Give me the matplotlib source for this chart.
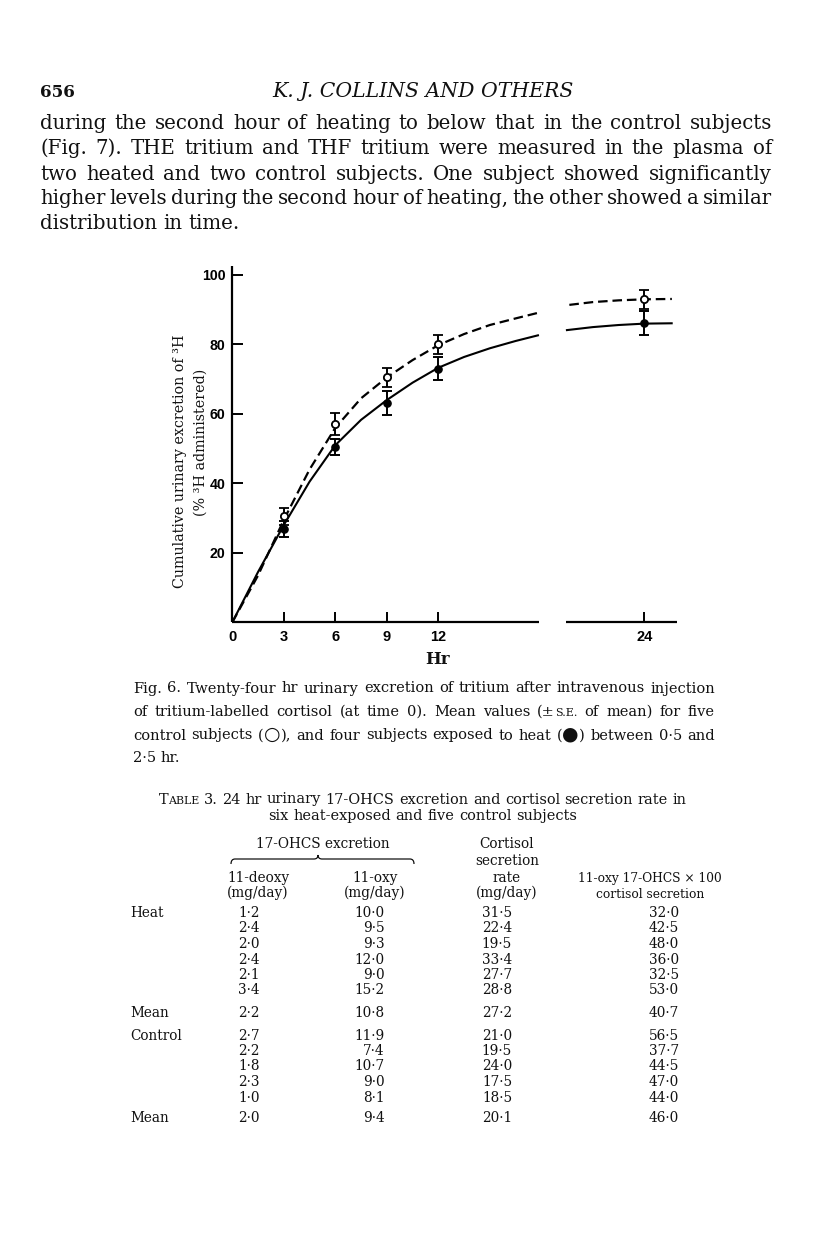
import matplotlib
matplotlib.use("Agg")
import matplotlib.pyplot as plt
from matplotlib.path import Path
from matplotlib.patches import PathPatch

W, H = 816, 1258
SERIF = ["DejaVu Serif", "DejaVu Sans"]
SANS = "Liberation Sans"

# ---------------- chart data ----------------
hours = [3, 6, 9, 12, 24]
control_mean = [30.5, 57.0, 70.5, 80.0, 93.0]
control_se = [2.4, 3.2, 2.7, 2.8, 2.8]
heat_mean = [27.0, 50.5, 63.2, 73.0, 86.1]
heat_se = [2.3, 2.4, 3.4, 3.3, 3.5]

# fitted curves (two pieces because of the axis break)
control_curve_hours_a = [0, 1.5, 3, 4.5, 6, 7.5, 9, 10.5, 12, 13.5, 15, 16.5, 17.96]
control_curve_vals_a = [0, 13.5, 29.5, 44.0, 56.0, 64.5, 70.5, 75.5, 79.8, 83.0, 85.6, 87.5, 89.3]
control_curve_hours_b = [19.63, 21, 22.5, 24, 25.6]
control_curve_vals_b = [91.4, 92.2, 92.7, 93.0, 93.1]
heat_curve_hours_a = [0, 1.5, 3, 4.5, 6, 7.5, 9, 10.5, 12, 13.5, 15, 16.5, 17.86]
heat_curve_vals_a = [0, 14.5, 28.0, 40.5, 51.0, 58.3, 64.0, 69.0, 73.3, 76.4, 78.9, 81.0, 82.7]
heat_curve_hours_b = [19.43, 21, 22.5, 24, 25.65]
heat_curve_vals_b = [84.1, 85.0, 85.6, 86.0, 86.1]

x_ticks = [0, 3, 6, 9, 12, 24]
y_ticks = [20, 40, 60, 80, 100]
x_axis_pieces = [(0, 17.86), (19.43, 25.88)]
y_axis_top = 102.5

ylabel_lines = ["Cumulative urinary excretion of \u00b3H", "(% \u00b3H administered)"]
xlabel = "Hr"

# ---------------- page text ----------------
page_number = "656"
running_head = "K. J. COLLINS AND OTHERS"
paragraph = [
    "during the second hour of heating to below that in the control subjects",
    "(Fig. 7). THE tritium and THF tritium were measured in the plasma of",
    "two heated and two control subjects. One subject showed significantly",
    "higher levels during the second hour of heating, the other showed a similar",
    "distribution in time.",
]
caption = [
    "Fig. 6. Twenty-four hr urinary excretion of tritium after intravenous injection",
    "of tritium-labelled cortisol (at time 0). Mean values (\u00b1{S.E.} of mean) for five",
    "control subjects (<\u25cb>), and four subjects exposed to heat (<\u25cf>) between 0\u00b75 and",
    "2\u00b75 hr.",
]
table_title = [
    "T{ABLE} 3. 24 hr urinary 17-OHCS excretion and cortisol secretion rate in",
    "six heat-exposed and five control subjects",
]

# ---------------- table data ----------------
heat_deoxy = [1.2, 2.4, 2.0, 2.4, 2.1, 3.4]
heat_oxy = [10.0, 9.5, 9.3, 12.0, 9.0, 15.2]
heat_cortisol = [31.5, 22.4, 19.5, 33.4, 27.7, 28.8]
heat_ratio = [32.0, 42.5, 48.0, 36.0, 32.5, 53.0]
heat_means = [2.2, 10.8, 27.2, 40.7]
control_deoxy = [2.7, 2.2, 1.8, 2.3, 1.0]
control_oxy = [11.9, 7.4, 10.7, 9.0, 8.1]
control_cortisol = [21.0, 19.5, 24.0, 17.5, 18.5]
control_ratio = [56.5, 37.7, 44.5, 47.0, 44.0]
control_means = [2.0, 9.4, 20.1, 46.0]

# ---------------- figure ----------------
fig = plt.figure(figsize=(W / 100, H / 100), dpi=100)
page = fig.add_axes([0, 0, 1, 1])
page.set_xlim(0, W)
page.set_ylim(H, 0)
page.axis("off")
renderer = fig.canvas.get_renderer()
INK = "#111111"


def tw(s, size, **kw):
    t = page.text(0, 0, s, fontsize=size, **kw)
    w = t.get_window_extent(renderer).width
    t.remove()
    return w


def parse_word(word):
    """split a word into (text, scale) segments; {..} small capitals, <..> enlarged symbol"""
    segs = []
    buf = ""
    cur = 1.0
    for ch in word:
        if ch in "{<":
            if buf:
                segs.append((buf, 1.0))
            buf = ""
            cur = 0.76 if ch == "{" else 1.3
        elif ch in "}>":
            if buf:
                segs.append((buf, cur))
            buf = ""
            cur = 1.0
        else:
            buf += ch
    if buf:
        segs.append((buf, cur))
    return segs


def word_width(word, size, **kw):
    return sum(tw(t, size * sc, **kw) for t, sc in parse_word(word))


def draw_word(x, y, word, size, **kw):
    for t, sc in parse_word(word):
        page.text(x, y, t, fontsize=size * sc, va="baseline", ha="left", **kw)
        x += tw(t, size * sc, **kw)


def space_w(size, **kw):
    return tw("x x", size, **kw) - tw("xx", size, **kw)


def line_width(line, size, **kw):
    words = line.split(" ")
    return sum(word_width(w, size, **kw) for w in words) + space_w(size, **kw) * (len(words) - 1)


def draw_line(line, x0, x1, y, size, mode="justify", **kw):
    words = line.split(" ")
    widths = [word_width(w, size, **kw) for w in words]
    sp = space_w(size, **kw)
    if mode == "justify" and len(words) > 1:
        gap = (x1 - x0 - sum(widths)) / (len(words) - 1)
        x = x0
    elif mode == "center":
        gap = sp
        total = sum(widths) + sp * (len(words) - 1)
        x = (x0 + x1) / 2 - total / 2
    else:
        gap = sp
        x = x0
    for w, wd in zip(words, widths):
        draw_word(x, y, w, size, **kw)
        x += wd + gap


txt_kw = dict(family=SERIF, color=INK)

# header
psize = 10 * 0.975 * 732 / line_width(paragraph[0], 10, **txt_kw)
page.text(40, 97, page_number, fontsize=psize * 0.85, family=SERIF, weight="bold",
          va="baseline", ha="left", color=INK)
hsize = 10 * 300 / tw(running_head, 10, family=SERIF, style="italic")
page.text(422.5, 97, running_head, fontsize=hsize, family=SERIF, style="italic",
          va="baseline", ha="center", color=INK)

# paragraph
for i, (line, yb) in enumerate(zip(paragraph, [129, 154, 179.5, 204.5, 229])):
    mode = "justify" if i < len(paragraph) - 1 else "left"
    draw_line(line, 40, 772, yb, psize, mode=mode, **txt_kw)

# caption
csize = 10 * 0.985 * 582 / line_width(caption[0], 10, **txt_kw)
for i, (line, yb) in enumerate(zip(caption, [692.5, 716, 739.5, 762])):
    mode = "justify" if i < len(caption) - 1 else "left"
    draw_line(line, 133, 715, yb, csize, mode=mode, **txt_kw)

# table title
tsize = 10 * 528 / line_width(table_title[0], 10, **txt_kw)
draw_line(table_title[0], 422.5 - 264, 422.5 + 264, 803.5, tsize, mode="justify", **txt_kw)
draw_line(table_title[1], 322.5, 522.5, 820, tsize, mode="center", **txt_kw)

# table headers
fsize = 10 * 134 / tw("17-OHCS excretion", 10, **txt_kw)
f4size = 10 * 145 / tw("11-oxy 17-OHCS \u00d7 100", 10, **txt_kw)


def ctext(x, y, s, size=None):
    page.text(x, y, s, fontsize=size or fsize, ha="center", va="baseline", **txt_kw)


ctext(323, 848, "17-OHCS excretion")
ctext(507, 848, "Cortisol")
ctext(507, 865, "secretion")
ctext(258, 882, "11-deoxy")
ctext(375, 882, "11-oxy")
ctext(507, 882, "rate")
ctext(650, 882, "11-oxy 17-OHCS \u00d7 100", f4size)
ctext(258, 897.5, "(mg/day)")
ctext(375, 897.5, "(mg/day)")
ctext(507, 897.5, "(mg/day)")
ctext(650, 897.5, "cortisol secretion", f4size)

# brace over the two 17-OHCS columns
bx0, bx1, by, bh = 231, 414, 859, 5
bm = 318
verts = [(bx0, by + bh), (bx0, by), (bx0 + 4, by),
         (bm - 4, by), (bm, by), (bm, by - 4),
         (bm, by), (bm + 4, by),
         (bx1 - 4, by), (bx1, by), (bx1, by + bh)]
codes = [Path.MOVETO, Path.CURVE3, Path.CURVE3,
         Path.LINETO, Path.CURVE3, Path.CURVE3,
         Path.CURVE3, Path.CURVE3,
         Path.LINETO, Path.CURVE3, Path.CURVE3]
page.add_patch(PathPatch(Path(verts, codes), fill=False, lw=0.9, color=INK))

# table body
col_right = [260, 385, 512, 679]
fmt = lambda v: f"{v:.1f}".replace(".", "\u00b7")
heat_cols = list(zip(heat_deoxy, heat_oxy, heat_cortisol, heat_ratio))
control_cols = list(zip(control_deoxy, control_oxy, control_cortisol, control_ratio))
row_y_heat = [917, 932.5, 948, 963.5, 979, 994.5]
row_y_control = [1039.5, 1055, 1070.5, 1086, 1101.5]
label_x = 130


def row(label, vals, yb):
    if label:
        page.text(label_x, yb, label, fontsize=fsize, ha="left", va="baseline", **txt_kw)
    for v, xr in zip(vals, col_right):
        page.text(xr, yb, fmt(v), fontsize=fsize, ha="right", va="baseline", **txt_kw)


for i, (vals, yb) in enumerate(zip(heat_cols, row_y_heat)):
    row("Heat" if i == 0 else "", vals, yb)
row("Mean", heat_means, 1017)
for i, (vals, yb) in enumerate(zip(control_cols, row_y_control)):
    row("Control" if i == 0 else "", vals, yb)
row("Mean", control_means, 1122.5)

# ---------------- chart ----------------
x0px, y0px = 232.3, 622.3
px_per_hr, px_per_unit = 17.17, 3.473
xmax, ymax = 27.0, 105.0
ax = fig.add_axes([x0px / W, (H - y0px) / H, xmax * px_per_hr / W, ymax * px_per_unit / H])
ax.set_xlim(0, xmax)
ax.set_ylim(0, ymax)
ax.patch.set_alpha(0)
for s in ax.spines.values():
    s.set_visible(False)

LW = 1.6
ax.plot([0, 0], [0, y_axis_top], color="black", lw=LW, clip_on=False, solid_capstyle="butt")
for a, b in x_axis_pieces:
    ax.plot([a, b], [0, 0], color="black", lw=LW, clip_on=False, solid_capstyle="butt")

ax.set_xticks(x_ticks)
ax.set_xticklabels([str(t) for t in x_ticks])
ax.set_yticks(y_ticks)
ax.set_yticklabels([str(t) for t in y_ticks])
ax.tick_params(axis="x", direction="in", length=7.4, width=1.4, pad=5.2, labelsize=10.5)
ax.tick_params(axis="y", direction="in", length=7.8, width=1.4, pad=4.8, labelsize=10.2)
for lab in ax.get_xticklabels() + ax.get_yticklabels():
    lab.set_family(SANS)
    lab.set_weight("bold")

ax.plot(heat_curve_hours_a, heat_curve_vals_a, color="black", lw=1.5, solid_capstyle="butt")
ax.plot(heat_curve_hours_b, heat_curve_vals_b, color="black", lw=1.5, solid_capstyle="butt")
ax.plot(control_curve_hours_a, control_curve_vals_a, color="black", lw=1.6,
        dashes=(4.3, 2.2), dash_capstyle="butt")
ax.plot(control_curve_hours_b, control_curve_vals_b, color="black", lw=1.6,
        dashes=(4.3, 2.2), dash_capstyle="butt")

ax.errorbar(hours, heat_mean, yerr=heat_se, fmt="o", ms=5.2, mfc="black", mec="black",
            ecolor="black", elinewidth=1.4, capsize=3.4, capthick=1.4, zorder=4)
ax.errorbar(hours, control_mean, yerr=control_se, fmt="o", ms=5.2, mfc="white", mec="black",
            mew=1.3, ecolor="black", elinewidth=1.4, capsize=3.4, capthick=1.4, zorder=5)

ysize = 10 * 255 / tw(ylabel_lines[0], 10, **txt_kw)
page.text(180, 461, ylabel_lines[0], fontsize=ysize, rotation=90, ha="center", va="center", **txt_kw)
page.text(201, 442, ylabel_lines[1], fontsize=ysize, rotation=90, ha="center", va="center", **txt_kw)
page.text(438, 664.5, xlabel, fontsize=12, family=SERIF, weight="bold", ha="center",
          va="baseline", color=INK)

fig.savefig("out.png", dpi=100)
